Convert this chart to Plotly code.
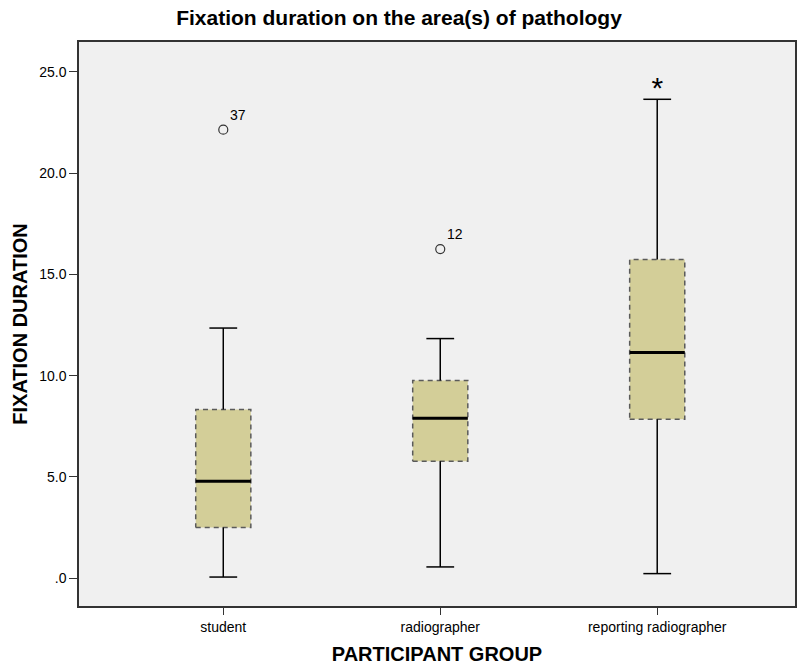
import plotly.graph_objects as go

categories = ["student", "radiographer", "reporting radiographer"]
lower_whisker = [0.05, 0.55, 0.22]
q1 = [2.50, 5.77, 7.84]
median = [4.78, 7.89, 11.14]
q3 = [8.33, 9.76, 15.73]
upper_whisker = [12.35, 11.83, 23.65]
outlier_group = [0, 1]
outlier_value = [22.15, 16.25]
outlier_label = ["37", "12"]
extreme_group = [2]
extreme_value = [24.1]
y_tick_vals = [0, 5, 10, 15, 20, 25]
y_tick_text = [".0", "5.0", "10.0", "15.0", "20.0", "25.0"]

FONT = "Liberation Sans, Arial, sans-serif"
box_half = 0.127
cap_half = 0.064

fig = go.Figure()
for i in range(len(categories)):
    # box fill + dashed border
    fig.add_trace(go.Scatter(
        x=[i - box_half, i + box_half, i + box_half, i - box_half, i - box_half],
        y=[q1[i], q1[i], q3[i], q3[i], q1[i]],
        mode="lines", fill="toself", fillcolor="#D3CE98",
        line=dict(color="#5a5a5a", width=1.5, dash="5px,4px"),
        hoverinfo="skip", showlegend=False))
    # whiskers and caps
    fig.add_trace(go.Scatter(
        x=[i, i, None, i, i, None,
           i - cap_half, i + cap_half, None, i - cap_half, i + cap_half],
        y=[q3[i], upper_whisker[i], None, q1[i], lower_whisker[i], None,
           upper_whisker[i], upper_whisker[i], None, lower_whisker[i], lower_whisker[i]],
        mode="lines", line=dict(color="black", width=1.5),
        hoverinfo="skip", showlegend=False))
    # median
    fig.add_trace(go.Scatter(
        x=[i - box_half, i + box_half], y=[median[i], median[i]],
        mode="lines", line=dict(color="black", width=3),
        hoverinfo="skip", showlegend=False))

# outliers
fig.add_trace(go.Scatter(
    x=outlier_group, y=outlier_value, mode="markers+text",
    marker=dict(symbol="circle-open", size=9, color="#333333", line=dict(width=1.2)),
    text=outlier_label, textposition="top right",
    textfont=dict(family=FONT, size=14, color="black"),
    showlegend=False))
# extreme values
fig.add_trace(go.Scatter(
    x=extreme_group, y=extreme_value, mode="text", text=["*"],
    textposition="middle center",
    textfont=dict(family=FONT, size=30, color="black"),
    showlegend=False))

fig.update_layout(
    width=798, height=665, autosize=False,
    margin=dict(l=79, r=1, t=42, b=58),
    paper_bgcolor="white", plot_bgcolor="#F0F0F0",
    font=dict(family=FONT, color="black"),
    title=dict(text="<b>Fixation duration on the area(s) of pathology</b>",
               x=0.5, xanchor="center", y=0.973, yanchor="middle",
               font=dict(family=FONT, size=21, color="black")),
    xaxis=dict(range=[-0.665, 2.635], tickvals=[0, 1, 2], ticktext=categories,
               showgrid=False, zeroline=False, showline=True, mirror=True,
               linecolor="#333333", linewidth=1.5, ticks="outside", ticklen=7,
               tickcolor="#333333", tickfont=dict(family=FONT, size=14),
               title=dict(text="<b>PARTICIPANT GROUP</b>", standoff=15,
                          font=dict(family=FONT, size=20))),
    yaxis=dict(range=[-1.38, 26.48], tickvals=y_tick_vals, ticktext=y_tick_text,
               showgrid=False, zeroline=False, showline=True, mirror=True,
               linecolor="#333333", linewidth=1.5, ticks="outside", ticklen=8,
               tickcolor="#333333", tickfont=dict(family=FONT, size=14),
               title=dict(text="<b>FIXATION DURATION</b>", standoff=6,
                          font=dict(family=FONT, size=20))),
)

fig.write_html(
    "out.html",
    config={"responsive": False, "displayModeBar": False},
    post_script="document.body.style.margin='0';document.body.style.overflow='hidden';",
)
